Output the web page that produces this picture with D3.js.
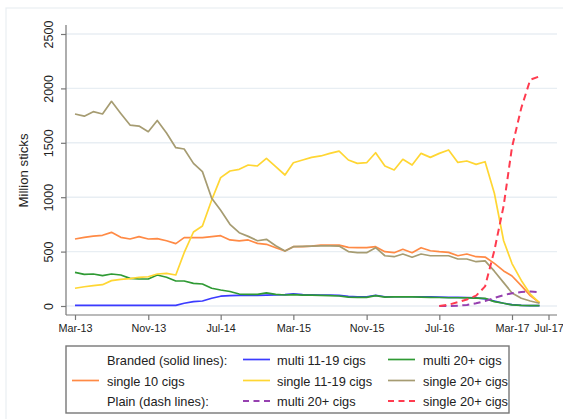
<!DOCTYPE html>
<html>
<head>
<meta charset="utf-8">
<script src="https://cdn.jsdelivr.net/npm/d3@7/dist/d3.min.js"></script>
<style>
  html, body { margin: 0; padding: 0; background: #fff; }
  svg { display: block; font-family: "Liberation Sans", Arial, Helvetica, sans-serif; }
</style>
</head>
<body>
<svg id="chart" width="563" height="419"></svg>
<script>
// ---------- DATA (monthly, Mar-13 .. Jun-17) ----------
const firstMonth = "2013-03";
const plainFirstMonth = "2016-07";

const brandedMulti1119 = [6, 6, 6, 6, 6, 6, 6, 6, 6, 6, 6, 6, 25, 40, 46, 71, 90, 95, 98, 98,
  98, 100, 103, 105, 112, 105, 103, 100, 100, 98, 88, 85, 85, 97, 85, 85, 85, 85, 85, 85,
  82, 80, 80, 78, 75, 66, 45, 25, 12, 5, 3, 3];

const brandedMulti20 = [309, 291, 294, 279, 294, 285, 254, 248, 248, 285, 264, 230, 230, 208, 202, 163, 147, 133, 110, 107,
  107, 120, 107, 101, 105, 100, 100, 98, 95, 92, 82, 80, 80, 95, 82, 83, 83, 83, 82, 80,
  78, 76, 76, 74, 72, 70, 40, 25, 10, 5, 3, 3];

const brandedSingle10 = [616, 631, 643, 650, 677, 631, 616, 637, 616, 619, 600, 573, 628, 628, 628, 637, 646, 607, 598, 607,
  576, 567, 536, 505, 545, 545, 551, 560, 560, 560, 539, 536, 536, 545, 499, 490, 521, 490, 536, 508,
  499, 493, 462, 478, 453, 450, 392, 322, 276, 187, 95, 30];

const brandedSingle1119 = [163, 177, 187, 196, 233, 245, 251, 264, 269, 294, 300, 285, 490, 680, 735, 974, 1180, 1241, 1256, 1296,
  1287, 1357, 1280, 1204, 1317, 1342, 1366, 1379, 1403, 1424, 1342, 1311, 1317, 1409, 1287, 1250, 1348, 1296, 1403, 1366,
  1403, 1434, 1320, 1333, 1302, 1326, 1036, 600, 390, 235, 110, 28];

const brandedSingle20 = [1765, 1745, 1786, 1765, 1881, 1770, 1663, 1654, 1602, 1705, 1590, 1455, 1443, 1311, 1235, 990, 880, 751, 674, 640,
  600, 613, 554, 505, 545, 548, 550, 552, 553, 551, 500, 490, 490, 536, 462, 453, 478, 448, 478, 462,
  462, 462, 432, 432, 407, 415, 320, 215, 120, 71, 46, 25];

const plainMulti20 = [0, 0, 3, 10, 25, 45, 75, 100, 118, 128, 133, 126];
const plainSingle20 = [0, 12, 35, 60, 95, 180, 510, 920, 1460, 1820, 2080, 2110];

const yTickValues = [0, 500, 1000, 1500, 2000, 2500];
const xTickLabels = ["Mar-13", "Nov-13", "Jul-14", "Mar-15", "Nov-15", "Jul-16", "Mar-17", "Jul-17"];

const seriesNames = ["multi 11-19 cigs", "multi 20+ cigs", "single 10 cigs", "single 11-19 cigs",
  "single 20+ cigs", "multi 20+ cigs", "single 20+ cigs"];
const seriesColors = ["#3b3bff", "#2f9a34", "#ff8a45", "#ffd633", "#a69c72", "#9640b0", "#ff3b4f"];

// ---------- BUILD ----------
const parseYM = d3.timeParse("%Y-%m");
const parseTick = d3.timeParse("%b-%y");
function toPoints(values, start) {
  const s = parseYM(start);
  return values.map((v, i) => ({ date: d3.timeMonth.offset(s, i), value: v }));
}

const series = [
  { name: seriesNames[0], color: seriesColors[0], dashed: false, pts: toPoints(brandedMulti1119, firstMonth) },
  { name: seriesNames[1], color: seriesColors[1], dashed: false, pts: toPoints(brandedMulti20, firstMonth) },
  { name: seriesNames[2], color: seriesColors[2], dashed: false, pts: toPoints(brandedSingle10, firstMonth) },
  { name: seriesNames[3], color: seriesColors[3], dashed: false, pts: toPoints(brandedSingle1119, firstMonth) },
  { name: seriesNames[4], color: seriesColors[4], dashed: false, pts: toPoints(brandedSingle20, firstMonth) },
  { name: seriesNames[5], color: seriesColors[5], dashed: true, pts: toPoints(plainMulti20, plainFirstMonth) },
  { name: seriesNames[6], color: seriesColors[6], dashed: true, pts: toPoints(plainSingle20, plainFirstMonth) }
];

const svg = d3.select("#chart");
const plot = { left: 66, right: 557, top: 25, bottom: 315 };

const x = d3.scaleTime()
  .domain([parseTick("Mar-13"), parseTick("Jul-17")])
  .range([75, 548.5]);
const y = d3.scaleLinear().domain([0, 2500]).range([306, 34]);

// outer frame
svg.append("rect").attr("x", 6).attr("y", 8).attr("width", 570).attr("height", 430)
  .attr("fill", "none").attr("stroke", "#e9eef2").attr("stroke-width", 1.2);

// grid
svg.append("g").selectAll("line").data(yTickValues).join("line")
  .attr("x1", plot.left).attr("x2", plot.right)
  .attr("y1", d => y(d)).attr("y2", d => y(d))
  .attr("stroke", "#e8eef3").attr("stroke-width", 1.4);

// y axis
const yAxis = svg.append("g").attr("transform", `translate(${plot.left},0)`)
  .call(d3.axisLeft(y).tickValues(yTickValues).tickSize(5).tickFormat(d3.format("d")));
yAxis.select(".domain").remove();
yAxis.selectAll(".tick line").attr("stroke", "#777").attr("stroke-width", 1.2);
yAxis.selectAll(".tick text")
  .attr("transform", "rotate(-90)")
  .attr("x", 0).attr("y", -13).attr("dy", 0)
  .attr("text-anchor", "middle")
  .attr("font-size", "12.5px").attr("fill", "#222")
  .attr("font-family", "Liberation Sans, Arial, sans-serif");

// x axis
const xAxis = svg.append("g").attr("transform", `translate(0,${plot.bottom})`)
  .call(d3.axisBottom(x).tickValues(xTickLabels.map(parseTick)).tickSize(5)
    .tickFormat(d3.timeFormat("%b-%y")));
xAxis.select(".domain").remove();
xAxis.selectAll(".tick line").attr("stroke", "#777").attr("stroke-width", 1.2);
xAxis.selectAll(".tick text")
  .attr("y", 17).attr("dy", 0)
  .attr("font-size", "10.8px").attr("fill", "#222")
  .attr("font-family", "Liberation Sans, Arial, sans-serif");

// axis lines
svg.append("line").attr("x1", plot.left).attr("x2", plot.left).attr("y1", plot.top).attr("y2", plot.bottom)
  .attr("stroke", "#777").attr("stroke-width", 1.2);
svg.append("line").attr("x1", plot.left).attr("x2", plot.right).attr("y1", plot.bottom).attr("y2", plot.bottom)
  .attr("stroke", "#777").attr("stroke-width", 1.2);

// axis title
svg.append("text")
  .attr("transform", "translate(28,170.5) rotate(-90)")
  .attr("text-anchor", "middle").attr("font-size", "13.2px").attr("fill", "#222")
  .text("Million sticks");

// lines
const line = d3.line().x(d => x(d.date)).y(d => y(d.value));
svg.append("g").selectAll("path").data(series).join("path")
  .attr("d", d => line(d.pts))
  .attr("fill", "none")
  .attr("stroke", d => d.color)
  .attr("stroke-width", d => d.dashed ? 2 : 1.7)
  .attr("stroke-linejoin", "round")
  .attr("stroke-dasharray", d => d.dashed ? "7,4.5" : null);

// legend
const lg = svg.append("g");
lg.append("rect").attr("x", 66).attr("y", 346).attr("width", 443).attr("height", 67)
  .attr("fill", "#fff").attr("stroke", "#777").attr("stroke-width", 1.4);

const rowsBase = [364.5, 385.5, 406];
const colKey = [72, 243, 388];
const colText = [107, 277, 423];
const legendItems = [
  { row: 0, col: 0, label: "Branded (solid lines):", s: null },
  { row: 0, col: 1, label: series[0].name, s: series[0] },
  { row: 0, col: 2, label: series[1].name, s: series[1] },
  { row: 1, col: 0, label: series[2].name, s: series[2] },
  { row: 1, col: 1, label: series[3].name, s: series[3] },
  { row: 1, col: 2, label: series[4].name, s: series[4] },
  { row: 2, col: 0, label: "Plain (dash lines):", s: null },
  { row: 2, col: 1, label: series[5].name, s: series[5] },
  { row: 2, col: 2, label: series[6].name, s: series[6] }
];
legendItems.forEach(it => {
  if (it.s) {
    lg.append("line")
      .attr("x1", colKey[it.col]).attr("x2", colKey[it.col] + 27)
      .attr("y1", rowsBase[it.row] - 5).attr("y2", rowsBase[it.row] - 5)
      .attr("stroke", it.s.color).attr("stroke-width", it.s.dashed ? 2 : 1.7)
      .attr("stroke-dasharray", it.s.dashed ? "6,4.5" : null);
  }
  lg.append("text")
    .attr("x", colText[it.col]).attr("y", rowsBase[it.row])
    .attr("font-size", "12.8px").attr("fill", "#222")
    .text(it.label);
});
</script>
</body>
</html>
